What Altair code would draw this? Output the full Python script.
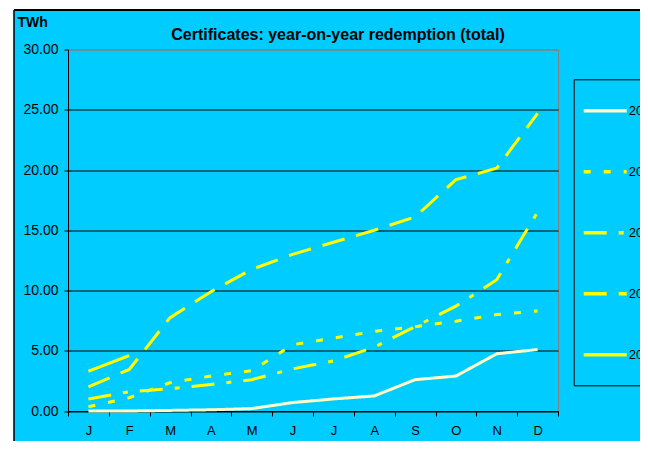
import altair as alt
import pandas as pd

months = ["Jan", "Feb", "Mar", "Apr", "May", "Jun", "Jul", "Aug", "Sep", "Oct", "Nov", "Dec"]
years = ["2003", "2004", "2005", "2006", "2007"]

v2003 = [0.0, 0.0, 0.05, 0.1, 0.2, 0.7, 1.0, 1.25, 2.6, 2.9, 4.75, 5.1]
v2004 = [0.35, 1.1, 2.35, 2.9, 3.35, 5.5, 6.05, 6.6, 7.0, 7.45, 8.0, 8.3]
v2005 = [1.0, 1.6, 1.85, 2.2, 2.6, 3.5, 4.15, 5.3, 7.0, 8.7, 10.9, 16.5]
v2006 = [2.0, 3.45, 7.75, 9.9, 11.75, 13.0, 14.0, 15.0, 16.1, 19.2, 20.15, 24.7]
v2007 = [3.3, 4.6]

series = [v2003, v2004, v2005, v2006, v2007]
colors = ["#FFFFCC", "#FFFF00", "#FFFF00", "#FFFF00", "#FFFF00"]
dashes = [[1, 0], [7, 13], [23, 12, 5, 12], [23, 12], [1, 0]]
y_ticks = [0, 5, 10, 15, 20, 25, 30]
title_text = "Certificates: year-on-year redemption (total)"

rows = []
for yr, vals in zip(years, series):
    for m, v in zip(months, vals):
        rows.append({"month": m, "year": yr, "twh": v})
df = pd.DataFrame(rows)

FONT = "Liberation Sans, Arial, sans-serif"
BG = "#00CCFF"

x_enc = alt.X(
    "month:N", sort=months, bandPosition=0.5,
    scale=alt.Scale(type="band", paddingInner=0, paddingOuter=0),
    axis=alt.Axis(title=None, labelExpr="substring(datum.label, 0, 1)", labelAngle=0,
                  tickBand="extent", tickSize=5, tickColor="black", domainColor="black",
                  labelFont=FONT, labelFontSize=13, labelColor="black", labelPadding=8,
                  grid=False),
)
y_enc = alt.Y(
    "twh:Q", scale=alt.Scale(domain=[0, 30], nice=False),
    axis=alt.Axis(values=y_ticks, format=".2f", title="TWh", titleAngle=0, titleAlign="left",
                  titleBaseline="alphabetic", titleX=-51, titleY=-23.5, titleFont=FONT,
                  titleFontSize=14, titleFontWeight="bold", titleColor="black",
                  grid=True,
                  gridColor={"condition": {"test": "datum.value >= 30", "value": "#808080"},
                             "value": "black"},
                  tickSize=4, tickColor="black", domainColor="black",
                  labelFont=FONT, labelFontSize=14, labelColor="black", labelPadding=6),
)

legend = alt.Legend(title=" ", titleOrient="bottom", titleFontSize=1, titlePadding=14,
                    orient="none", legendX=505.7, legendY=29.8,
                    symbolType="stroke", symbolSize=1849, symbolStrokeWidth=3.5,
                    rowPadding=30, padding=8, strokeColor="black",
                    labelFont=FONT, labelFontSize=13, labelColor="black", labelOffset=0)

lines = alt.Chart(df).mark_line(strokeWidth=3).encode(
    x=x_enc, y=y_enc,
    color=alt.Color("year:N", scale=alt.Scale(domain=years, range=colors), legend=legend),
    strokeDash=alt.StrokeDash("year:N", scale=alt.Scale(domain=years, range=dashes), legend=legend),
)

one = pd.DataFrame({"a": [0]})
white_left = alt.Chart(one).mark_rect(color="white").encode(
    x=alt.value(-62), x2=alt.value(-54), y=alt.value(-42), y2=alt.value(420))
white_top = alt.Chart(one).mark_rect(color="white").encode(
    x=alt.value(-62), x2=alt.value(600), y=alt.value(-42), y2=alt.value(-39.5))
border_left = alt.Chart(one).mark_rule(color="black", strokeWidth=1.5).encode(
    x=alt.value(-54), y=alt.value(-39.5), y2=alt.value(420))
border_top = alt.Chart(one).mark_rule(color="black", strokeWidth=2).encode(
    x=alt.value(-54), x2=alt.value(600), y=alt.value(-39.5))

chart = alt.layer(white_left, white_top, border_left, border_top, lines).properties(
    width=490, height=361.5,
    padding={"left": 60, "top": 41.5, "right": 82, "bottom": 30},
    autosize=alt.AutoSizeParams(type="none"),
    title=alt.TitleParams(title_text, font=FONT, fontSize=16, fontWeight="bold",
                          color="black", anchor="middle", frame="group", dx=25,
                          offset=-35),
).configure(background=BG).configure_view(stroke="#808080", strokeWidth=1)

chart.save("out.html", embed_options={"renderer": "svg", "actions": False})
